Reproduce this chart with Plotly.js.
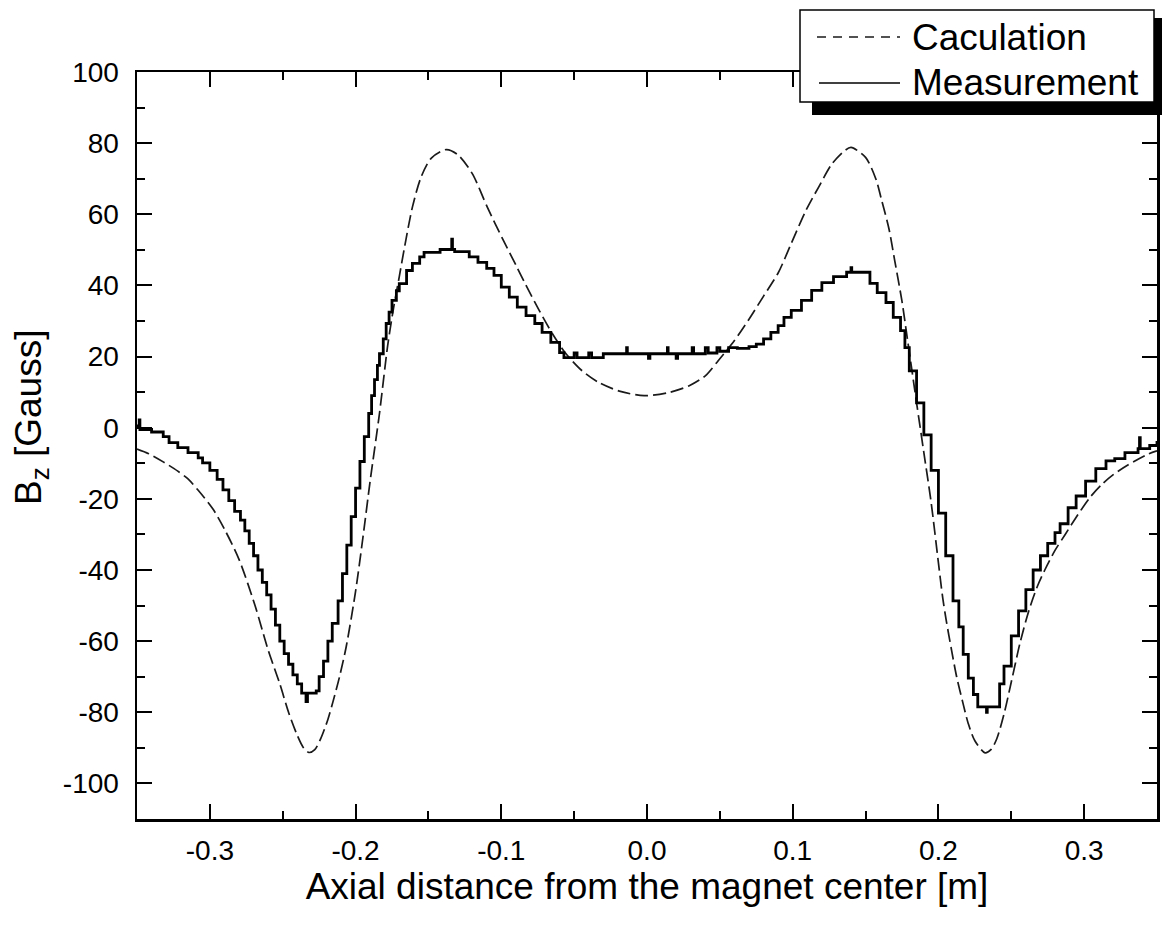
<!DOCTYPE html>
<html>
<head>
<meta charset="utf-8">
<script src="https://cdn.plot.ly/plotly-3.0.1.min.js"></script>
<style>html,body{margin:0;padding:0;background:#fff;}#chart{width:1162px;height:927px;}</style>
</head>
<body>
<div id="chart"></div>
<script>
// ---- Data ----
const seriesNames = ["Caculation", "Measurement"];

const calcX = [-0.35,-0.342,-0.332,-0.322,-0.315,-0.308,-0.298,-0.29,-0.28,-0.269,-0.26,-0.252,-0.246,-0.24,-0.236,-0.232,-0.228,-0.224,-0.219,-0.2155,-0.211,-0.2064,-0.2,-0.195,-0.19,-0.1836,-0.178,-0.174,-0.17,-0.1665,-0.161,-0.155,-0.148,-0.1377,-0.13,-0.12,-0.1096,-0.099,-0.0897,-0.083,-0.074,-0.065,-0.056,-0.0445,-0.033,-0.019,-0.002,0.015,0.029,0.04,0.049,0.06,0.07,0.08,0.09,0.099,0.109,0.118,0.127,0.136,0.14,0.15,0.157,0.161,0.166,0.17,0.175,0.178,0.185,0.19,0.195,0.2,0.203,0.2055,0.209,0.2125,0.217,0.2205,0.225,0.232,0.236,0.24,0.245,0.25,0.256,0.262,0.268,0.273,0.28,0.287,0.294,0.304,0.312,0.32,0.33,0.344,0.35];
const calcY = [-6,-7.3,-9.6,-12.2,-14.4,-17.6,-22.8,-28.5,-37,-50,-62.5,-72,-80,-86.5,-89.8,-91.3,-90.5,-87.5,-82,-77,-70,-61.5,-46,-31,-15,4,23,33.5,42.5,50.5,62,70.5,75.8,78.2,76.8,71.5,62,53,45.5,40,33,26.5,21,16,12.7,10.3,9,9.9,11.8,14.6,18.9,24.5,30.5,37,43.5,51.8,61,67.8,74.2,78,78.8,76,70,64,56,47,35.5,27,7,-7,-21,-38,-48,-54.5,-62.5,-70,-77.7,-83.2,-88,-91.4,-90.5,-87.5,-80.5,-71.5,-60.5,-51.5,-44.5,-40,-34.5,-30,-25.5,-19.6,-16,-13.2,-10.5,-7.4,-6.5];

const measX = [-0.35,-0.3485,-0.348,-0.34,-0.332,-0.328,-0.322,-0.315,-0.308,-0.305,-0.3,-0.295,-0.291,-0.287,-0.283,-0.279,-0.276,-0.273,-0.27,-0.267,-0.264,-0.261,-0.258,-0.255,-0.252,-0.249,-0.246,-0.243,-0.24,-0.237,-0.234,-0.233,-0.227,-0.225,-0.222,-0.219,-0.216,-0.212,-0.209,-0.206,-0.203,-0.2,-0.197,-0.194,-0.191,-0.189,-0.187,-0.185,-0.1836,-0.181,-0.179,-0.177,-0.175,-0.172,-0.17,-0.165,-0.161,-0.156,-0.153,-0.142,-0.134,-0.1335,-0.132,-0.122,-0.116,-0.11,-0.105,-0.1,-0.0945,-0.089,-0.083,-0.077,-0.072,-0.066,-0.06,-0.057,-0.05,-0.048,-0.04,-0.038,-0.03,-0.014,-0.0135,0.001,0.002,0.014,0.0145,0.02,0.021,0.031,0.032,0.04,0.042,0.048,0.05,0.056,0.062,0.07,0.075,0.08,0.085,0.09,0.094,0.099,0.106,0.113,0.12,0.128,0.137,0.14,0.1405,0.15,0.153,0.158,0.164,0.169,0.174,0.177,0.18,0.185,0.19,0.195,0.2,0.205,0.21,0.214,0.217,0.2205,0.224,0.227,0.233,0.2335,0.239,0.242,0.245,0.25,0.255,0.26,0.265,0.27,0.275,0.28,0.2835,0.289,0.2945,0.301,0.308,0.315,0.321,0.328,0.337,0.338,0.3385,0.345,0.35];
const measY = [0.5,2.2,-0.5,-1.2,-2.5,-4.2,-5.6,-7,-8.5,-9.9,-12,-14.5,-17.5,-20.5,-23.5,-26,-29,-32.5,-36,-40,-43.5,-47,-51,-55.5,-60,-63.5,-66.5,-69.5,-72,-74.6,-77,-74.6,-74,-70,-65.6,-60,-55,-48.7,-41,-33,-25,-17,-9.5,-2.5,4,9,13.5,17.5,20.8,25,29.3,32.5,35.8,38.5,40.5,44.2,46.2,48,49.3,50.1,53,50.1,49.5,48,46.5,44.8,42.8,39.5,36.7,33.9,31.5,29.3,26.8,24,21.1,19.7,21,19.7,21,19.7,20.8,22.5,20.8,19.5,20.8,22.5,20.8,19.5,20.8,22.5,20.8,22.5,21,22.5,21.5,22.5,22.3,22.8,23.5,25,26.8,28.7,31,33,35.8,38.6,40.8,42.5,43.7,45,43.7,43.7,40.6,38,35.2,31,27.3,22.5,16,7,-2,-12,-24,-36,-48.7,-56,-63.7,-70.4,-75,-78.5,-80,-78.5,-78.5,-72,-67,-58.5,-51.5,-45.5,-40,-36,-32.5,-29.5,-27,-22.5,-19.2,-15,-11.5,-9.3,-8.7,-7,-5.9,-2.8,-5.9,-5,-3.7];

const xTickVals = [-0.3,-0.2,-0.1,0,0.1,0.2,0.3];
const xTickText = ["-0.3","-0.2","-0.1","0.0","0.1","0.2","0.3"];
const yTickVals = [-100,-80,-60,-40,-20,0,20,40,60,80,100];
const yTickText = ["-100","-80","-60","-40","-20","0","20","40","60","80","100"];

const xTitle = "Axial distance from the magnet center [m]";
const yTitle = "B<sub>z</sub> [Gauss]";

// ---- Chart ----
const FONT = "Liberation Sans, Arial, Helvetica, sans-serif";
const W = 1162, H = 927;
const M = {l: 137, r: 5, t: 72, b: 108};
const pw = W - M.l - M.r, ph = H - M.t - M.b;
function px2x(p){ return (p - M.l) / pw; }
function py2y(p){ return (H - M.b - p) / ph; }

const calcLine = {color: "#1a1a1a", width: 1.7, dash: "13px,5px"};
const measLine = {color: "#000", width: 2.8};

const traces = [
  {x: calcX, y: calcY, name: seriesNames[0], type: "scatter", mode: "lines",
   line: Object.assign({}, calcLine, {shape: "spline", smoothing: 0.8})},
  {x: measX, y: measY, name: seriesNames[1], type: "scatter", mode: "lines",
   line: Object.assign({}, measLine, {shape: "hv"})}
];

const axisCommon = {
  showline: true, linewidth: 2.5, linecolor: "#000", mirror: "allticks",
  ticks: "inside", ticklen: 15, tickwidth: 2, tickcolor: "#000",
  showgrid: false, zeroline: false,
  tickfont: {family: FONT, size: 28, color: "#000"},
  tickmode: "array"
};

// legend box drawn in pixel positions converted to paper coords
const legendBox = {x0: 800, x1: 1154, y0: 10, y1: 102};
const legendShadow = {x0: 812, x1: 1162, y0: 18, y1: 115};
const legendRows = [37, 83];

const layout = {
  width: W, height: H,
  margin: M,
  paper_bgcolor: "#fff", plot_bgcolor: "#fff",
  font: {family: FONT, color: "#000"},
  showlegend: false,
  xaxis: Object.assign({}, axisCommon, {
    range: [-0.35, 0.35], tickvals: xTickVals, ticktext: xTickText,
    minor: {dtick: 0.05, tick0: 0, ticks: "inside", ticklen: 8, tickwidth: 2, tickcolor: "#000"},
    ticklabelstandoff: 5,
    title: {text: xTitle, font: {family: FONT, size: 37, color: "#000"}, standoff: 0}
  }),
  yaxis: Object.assign({}, axisCommon, {
    range: [-110, 100], tickvals: yTickVals, ticktext: yTickText,
    minor: {dtick: 10, tick0: 0, ticks: "inside", ticklen: 8, tickwidth: 2, tickcolor: "#000"},
    ticklabelstandoff: 10
  }),
  shapes: [
    {type: "rect", xref: "paper", yref: "paper", layer: "above",
     x0: px2x(legendShadow.x0), x1: px2x(legendShadow.x1), y0: py2y(legendShadow.y1), y1: py2y(legendShadow.y0),
     fillcolor: "#000", line: {width: 0}},
    {type: "rect", xref: "paper", yref: "paper", layer: "above",
     x0: px2x(legendBox.x0), x1: px2x(legendBox.x1), y0: py2y(legendBox.y1), y1: py2y(legendBox.y0),
     fillcolor: "#fff", line: {color: "#000", width: 1.5}},
    {type: "line", xref: "paper", yref: "paper", layer: "above",
     x0: px2x(817), x1: px2x(900), y0: py2y(legendRows[0]), y1: py2y(legendRows[0]),
     line: {color: "#1a1a1a", width: 1.5, dash: "9px,7px"}},
    {type: "line", xref: "paper", yref: "paper", layer: "above",
     x0: px2x(819), x1: px2x(900), y0: py2y(legendRows[1]), y1: py2y(legendRows[1]),
     line: {color: "#000", width: 1.5}}
  ],
  annotations: [
    {xref: "paper", yref: "paper", x: px2x(910), y: py2y(legendRows[0]), xanchor: "left", yanchor: "middle",
     text: seriesNames[0], showarrow: false, font: {family: FONT, size: 37, color: "#000"}},
    {xref: "paper", yref: "paper", x: px2x(910), y: py2y(legendRows[1]), xanchor: "left", yanchor: "middle",
     text: seriesNames[1], showarrow: false, font: {family: FONT, size: 37, color: "#000"}},
    {xref: "paper", yref: "paper", x: px2x(31), y: py2y(418), xanchor: "center", yanchor: "middle",
     text: yTitle, textangle: -90, showarrow: false, font: {family: FONT, size: 37, color: "#000"}}
  ]
};

Plotly.newPlot("chart", traces, layout, {displayModeBar: false, staticPlot: true});
</script>
</body>
</html>
